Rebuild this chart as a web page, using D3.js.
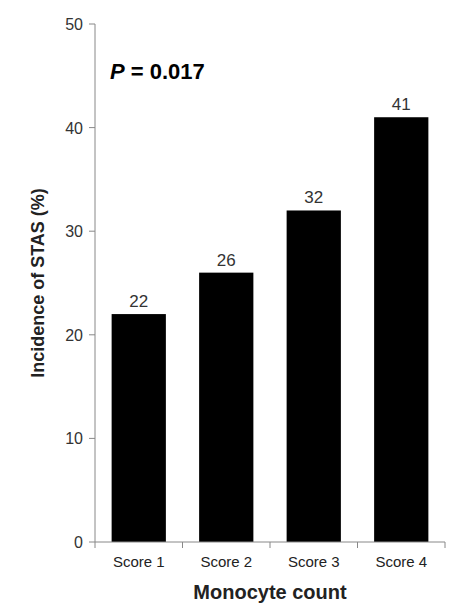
<!DOCTYPE html>
<html><head><meta charset="utf-8">
<script src="https://cdn.jsdelivr.net/npm/d3@7"></script>
<style>body{margin:0;background:#fff;font-family:Arial,"Liberation Sans",sans-serif}</style>
</head><body><svg id="c" width="453" height="613"></svg>
<script>
const categories=["Score 1","Score 2","Score 3","Score 4"];
const values=[22,26,32,41];
const yTicks=[0,10,20,30,40,50];
const svg=d3.select("#c");
const x=d3.scaleBand().domain(categories).range([95,445]).paddingInner(0.38).paddingOuter(0.19);
const y=d3.scaleLinear().domain([0,50]).range([542,24]);
const g=svg.append("g");
g.selectAll("rect").data(values).join("rect")
 .attr("x",(d,i)=>x(categories[i])).attr("width",x.bandwidth())
 .attr("y",d=>y(d)).attr("height",d=>y(0)-y(d)).attr("fill","#000");
g.selectAll("text.v").data(values).join("text").attr("class","v")
 .attr("x",(d,i)=>x(categories[i])+x.bandwidth()/2).attr("y",d=>y(d)-7)
 .attr("text-anchor","middle").attr("font-size",17).attr("fill","#333").text(d=>d);
g.append("line").attr("x1",95).attr("x2",95).attr("y1",y(50)).attr("y2",y(0)).attr("stroke","#888");
yTicks.forEach(t=>{
 g.append("line").attr("x1",89).attr("x2",95).attr("y1",y(t)).attr("y2",y(t)).attr("stroke","#888");
 g.append("text").attr("x",83).attr("y",y(t)+6).attr("text-anchor","end").attr("font-size",16).attr("fill","#333").text(t);
});
g.append("line").attr("x1",95).attr("x2",445).attr("y1",y(0)).attr("y2",y(0)).attr("stroke","#888");
[0,1,2,3,4].forEach(i=>{
 const px=95+i*(350/4);
 g.append("line").attr("x1",px).attr("x2",px).attr("y1",y(0)).attr("y2",y(0)+6).attr("stroke","#888");
});
categories.forEach((c,i)=>{
 g.append("text").attr("x",95+(i+0.5)*(350/4)).attr("y",567).attr("text-anchor","middle").attr("font-size",15).attr("fill","#222").text(c);
});
g.append("text").attr("x",270).attr("y",599).attr("text-anchor","middle").attr("font-size",20).attr("font-weight","bold").attr("fill","#222").text("Monocyte count");
g.append("text").attr("transform","translate(44,283) rotate(-90)").attr("text-anchor","middle").attr("font-size",18).attr("font-weight","bold").attr("fill","#222").text("Incidence of STAS (%)");
const p=g.append("text").attr("x",110).attr("y",79).attr("font-size",22).attr("font-weight","bold").attr("fill","#000");
p.append("tspan").attr("font-style","italic").text("P");
p.append("tspan").text(" = 0.017");
</script></body></html>
